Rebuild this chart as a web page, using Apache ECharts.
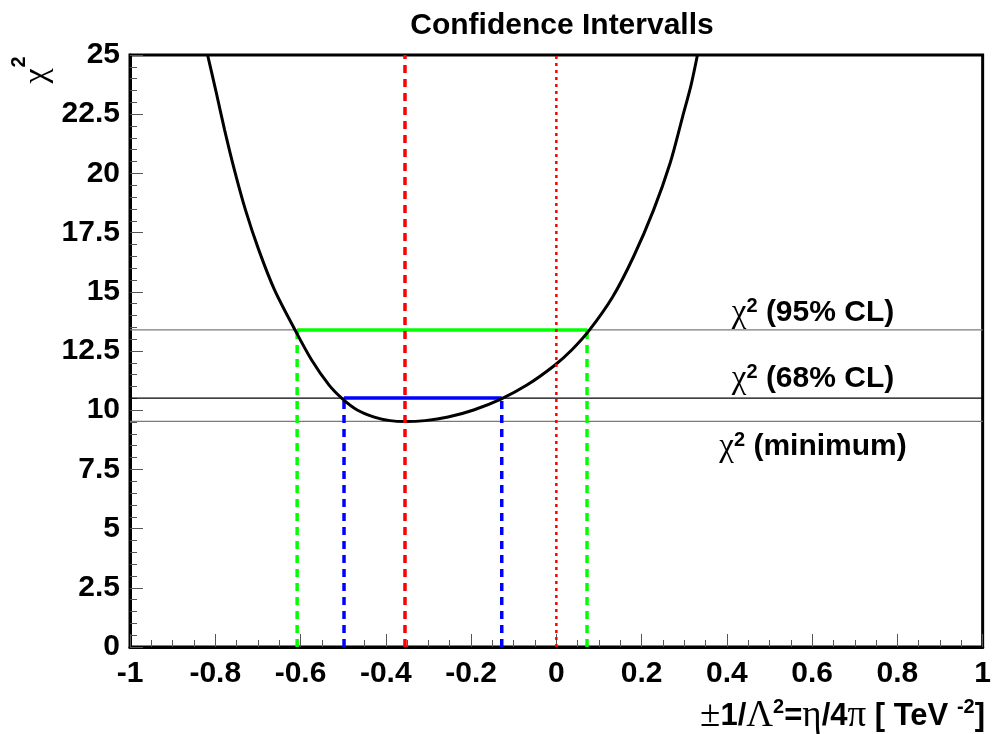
<!DOCTYPE html>
<html>
<head>
<meta charset="utf-8">
<title>Confidence Intervalls</title>
<script src="https://cdn.jsdelivr.net/npm/echarts@6/dist/echarts.min.js"></script>
<style>
  html, body { margin: 0; padding: 0; background: #fff; }
  #chart { width: 994px; height: 734px; }
</style>
</head>
<body>
<div id="chart"></div>
<script>
// chi^2 scan over the coupling 1/Lambda^2
const curveX = [-0.818, -0.799, -0.778, -0.755, -0.729, -0.698, -0.661, -0.613, -0.574,
                -0.533, -0.501, -0.467, -0.427, -0.390, -0.355, -0.308, -0.254, -0.194,
                -0.130, -0.069, -0.003, 0.036, 0.078, 0.132, 0.181, 0.228, 0.267,
                0.296, 0.316, 0.331];
const curveY = [25.00, 23.52, 21.83, 20.14, 18.45, 16.77, 15.08, 13.39, 12.12,
                11.06, 10.47, 10.01, 9.71, 9.56, 9.52, 9.56, 9.71, 10.01,
                10.47, 11.06, 11.91, 12.54, 13.39, 14.78, 16.48, 18.45, 20.44,
                22.38, 23.73, 25.00];

// chi^2 levels
const chi2Min = 9.53;
const chi2Cl68 = 10.51;
const chi2Cl95 = 13.39;

// best fit and interval bounds
const bestFit = -0.355;
const cl68Range = [-0.498, -0.128];
const cl95Range = [-0.608, 0.072];
const reference = 0;

// axis ranges
const xRange = [-1, 1];
const yRange = [0, 25];

const SANS = 'Liberation Sans, Arial, sans-serif';
const SERIF = 'Liberation Serif, Times New Roman, serif';

const chart = echarts.init(document.getElementById('chart'), null, { renderer: 'canvas' });

function seg(p, q) { return [p, q]; }

function lineSeries(data, color, width, type, z) {
  return {
    type: 'line',
    data: data,
    symbol: 'none',
    silent: true,
    animation: false,
    z: z,
    lineStyle: { color: color, width: width, type: type || 'solid', cap: 'butt' }
  };
}

const dashed = [8, 6];
const dotted = [3, 4];

const series = [
  // reference levels across the full range
  lineSeries(seg([xRange[0], chi2Cl95], [xRange[1], chi2Cl95]), '#7a7a7a', 1.3, 'solid', 1),
  lineSeries(seg([xRange[0], chi2Cl68], [xRange[1], chi2Cl68]), '#000000', 1.2, 'solid', 1),
  lineSeries(seg([xRange[0], chi2Min], [xRange[1], chi2Min]), '#7a7a7a', 1.3, 'solid', 1),
  // interval bars
  lineSeries(seg([cl95Range[0], chi2Cl95], [cl95Range[1], chi2Cl95]), '#00ff00', 3.5, 'solid', 3),
  lineSeries(seg([cl68Range[0], chi2Cl68], [cl68Range[1], chi2Cl68]), '#0000ff', 3.5, 'solid', 3),
  // interval drop lines
  lineSeries(seg([cl95Range[0], 0], [cl95Range[0], chi2Cl95]), '#00ff00', 3.5, dashed, 3),
  lineSeries(seg([cl95Range[1], 0], [cl95Range[1], chi2Cl95]), '#00ff00', 3.5, dashed, 3),
  lineSeries(seg([cl68Range[0], 0], [cl68Range[0], chi2Cl68]), '#0000ff', 3.5, dashed, 3),
  lineSeries(seg([cl68Range[1], 0], [cl68Range[1], chi2Cl68]), '#0000ff', 3.5, dashed, 3),
  // the chi^2 curve
  Object.assign(lineSeries(curveX.map((x, i) => [x, curveY[i]]), '#000000', 3, 'solid', 4),
    { smooth: 0.3 }),
  // best fit and zero
  lineSeries(seg([bestFit, yRange[0]], [bestFit, yRange[1]]), '#ff0000', 3.5, dashed, 5),
  lineSeries(seg([reference, yRange[0]], [reference, yRange[1]]), '#ff0000', 2.5, dotted, 5)
];

const richGreek = {
  g: { fontFamily: SERIF, fontSize: 33, color: '#000' },
  gx: { fontFamily: SERIF, fontSize: 37, color: '#000' },
  s: { fontFamily: SANS, fontWeight: 'bold', fontSize: 20, color: '#000', verticalAlign: 'top' },
  b: { fontFamily: SANS, fontWeight: 'bold', fontSize: 30, color: '#000' },
  bx: { fontFamily: SANS, fontWeight: 'bold', fontSize: 31, color: '#000' }
};

function label(text, x, y, align) {
  return {
    type: 'text',
    x: x, y: y, z: 10,
    silent: true,
    style: {
      text: text,
      rich: richGreek,
      align: align || 'center',
      verticalAlign: 'middle'
    }
  };
}

function plainText(text, x, y, font, rotation) {
  return {
    type: 'text',
    x: x, y: y, z: 10, rotation: rotation || 0,
    silent: true,
    style: { text: text, font: font, fill: '#000', align: 'center', verticalAlign: 'middle' }
  };
}

const option = {
  animation: false,
  backgroundColor: '#ffffff',
  title: {
    text: 'Confidence Intervalls',
    left: 557, top: 6,
    textAlign: 'center',
    textStyle: { fontFamily: SANS, fontWeight: 'bold', fontSize: 30, color: '#000' }
  },
  grid: {
    left: 130, right: 11, top: 55, bottom: 87,
    show: true, borderColor: '#000', borderWidth: 3, backgroundColor: 'transparent'
  },
  xAxis: {
    type: 'value',
    min: xRange[0], max: xRange[1], interval: 0.2,
    axisLine: { show: true, onZero: false, lineStyle: { color: '#000', width: 3 } },
    axisTick: { show: true, inside: true, length: 13, lineStyle: { color: '#555', width: 1 } },
    minorTick: { show: true, splitNumber: 4, length: 7, lineStyle: { color: '#555', width: 1 } },
    splitLine: { show: false },
    axisLabel: { margin: 12, fontFamily: SANS, fontWeight: 'bold', fontSize: 30, color: '#000' }
  },
  yAxis: {
    type: 'value',
    min: yRange[0], max: yRange[1], interval: 2.5,
    axisLine: { show: true, onZero: false, lineStyle: { color: '#000', width: 3 } },
    axisTick: { show: true, inside: true, length: 13, lineStyle: { color: '#555', width: 1 } },
    minorTick: { show: true, splitNumber: 5, length: 7, lineStyle: { color: '#555', width: 1 } },
    splitLine: { show: false },
    axisLabel: { margin: 10, fontFamily: SANS, fontWeight: 'bold', fontSize: 30, color: '#000' }
  },
  graphic: [
    label('{g|χ}{s|2}{b| (95% CL)}', 813, 313),
    label('{g|χ}{s|2}{b| (68% CL)}', 813, 379),
    label('{g|χ}{s|2}{b| (minimum)}', 813, 447),
    label('{gx|±}{bx|1/}{gx|Λ}{s|2}{bx|=}{gx|η}{bx|/4}{gx|π}{bx| [ TeV }{s|-2}{bx|]}', 985, 716, 'right'),
    // y-axis title, reading upwards
    plainText('χ', 37, 76, '34px ' + SERIF, Math.PI / 2),
    plainText('2', 19, 62, 'bold 20px ' + SANS, Math.PI / 2)
  ],
  series: series
};

chart.setOption(option);
</script>
</body>
</html>
